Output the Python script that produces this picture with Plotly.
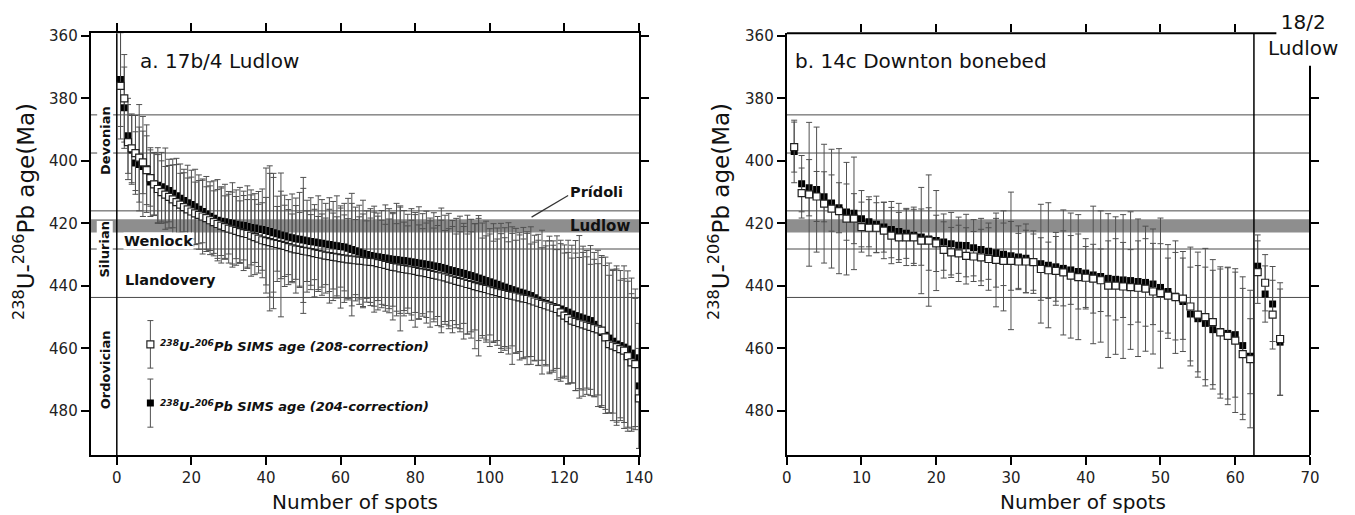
import plotly.graph_objects as go

W, H = 1355, 515
FONT = "DejaVu Sans"

# ---------------- panel a: 17b/4 Ludlow (ages in Ma) ----------------
a_age_208 = [
    376, 380, 394, 396, 397.5, 399, 400.5, 403, 405.5, 407.5,
    409, 410, 410.8, 411.5, 412.3, 413.2, 414, 414.8, 415.5, 416.2,
    416.8, 417.3, 417.8, 418.3, 419, 419.6, 420.2, 420.7, 421.2, 421.7,
    422, 422.4, 422.8, 423.1, 423.4, 423.9, 424.4, 424.9, 425.4, 425.7,
    426, 426.3, 426.6, 426.9, 427.2, 427.6, 428, 428.3, 428.5, 428.8,
    429, 429.2, 429.5, 429.8, 430, 430.3, 430.5, 430.7, 430.9, 431.1,
    431.3, 431.5, 431.6, 431.8, 431.9, 432, 432.2, 432.3, 432.4, 432.7,
    433, 433.3, 433.6, 433.9, 434.1, 434.4, 434.6, 434.8, 435, 435.2,
    435.5, 435.7, 435.9, 436.2, 436.5, 436.7, 437, 437.3, 437.7, 438,
    438.4, 438.7, 439, 439.4, 439.7, 440.1, 440.4, 440.7, 441, 441.4,
    441.7, 442, 442.3, 442.6, 442.9, 443.1, 443.4, 443.7, 444, 444.2,
    444.6, 445, 445.4, 445.8, 446.2, 446.6, 447, 447.4, 448.5, 449.5,
    450.3, 451.1, 451.5, 451.9, 452.3, 452.7, 453.1, 453.5, 453.9, 454.3,
    456.5, 458.6, 459.1, 459.6, 460.2, 460.7, 462.5, 464.5, 465, 476,
]
a_err_208 = [
    17, 14, 12, 11, 12, 17, 10, 11, 9, 10,
    11, 10, 9, 10, 11, 12, 10, 11, 10, 11,
    10, 11, 12, 10, 11, 10, 11, 12, 10, 11,
    12, 11, 10, 12, 11, 13, 12, 11, 12, 14,
    22, 21, 12, 23, 13, 12, 11, 14, 12, 20,
    13, 12, 14, 12, 13, 12, 15, 14, 13, 16,
    14, 13, 18, 13, 14, 15, 13, 14, 16, 15,
    14, 13, 15, 17, 14, 20, 15, 14, 16, 18,
    15, 14, 16, 17, 15, 16, 18, 15, 16, 17,
    15, 16, 18, 16, 17, 20, 22, 16, 17, 18,
    16, 17, 19, 18, 17, 22, 18, 20, 19, 21,
    18, 19, 20, 18, 19, 21, 20, 19, 22, 20,
    21, 20, 22, 21, 23, 22, 20, 22, 21, 24,
    23, 22, 24, 25, 22, 23, 24, 22, 21, 16,
]
a_age_204 = [
    374, 383, 392, 396.5, 400.7, 401.2, 401.8, 402.5, 406.8, 407.3,
    407.8, 408.3, 408.9, 409.5, 410.4, 411.2, 412, 412.7, 413.4, 414,
    414.7, 415.5, 416.2, 417, 417.7, 418.4, 419, 419.3, 419.5, 419.8,
    420, 420.3, 420.5, 420.7, 421, 421.3, 421.5, 421.8, 422, 422.3,
    422.6, 423, 423.3, 423.7, 424, 424.4, 424.6, 424.9, 425.1, 425.3,
    425.6, 425.8, 426, 426.2, 426.4, 426.6, 426.8, 427, 427.2, 427.4,
    427.6, 428, 428.4, 428.8, 429.2, 429.6, 430, 430.3, 430.5, 430.7,
    430.9, 431.1, 431.3, 431.5, 431.6, 431.8, 431.9, 432.1, 432.3, 432.5,
    432.7, 432.9, 433.1, 433.3, 433.6, 433.8, 434.1, 434.4, 434.8, 435.1,
    435.4, 435.7, 436, 436.4, 436.7, 437.1, 437.5, 437.9, 438.3, 438.7,
    439.1, 439.5, 440, 440.4, 440.8, 441.2, 441.6, 442, 442.3, 442.7,
    443.1, 443.8, 444.5, 445.2, 445.6, 446.1, 446.6, 447, 447.4, 447.9,
    448.4, 449, 449.5, 449.9, 450.3, 450.7, 451.1, 452.3, 453.6, 454.9,
    455.8, 456.7, 457.7, 458.6, 459.1, 459.6, 460.2, 461.5, 463, 472,
]
a_err_204 = [
    15, 13, 12, 11, 10, 12, 16, 14, 11, 10,
    12, 11, 13, 10, 11, 12, 11, 10, 12, 11,
    12, 11, 10, 12, 11, 12, 13, 11, 12, 10,
    13, 11, 12, 11, 13, 12, 11, 12, 13, 20,
    21, 19, 12, 14, 13, 12, 14, 13, 15, 20,
    13, 14, 12, 15, 14, 13, 15, 14, 16, 13,
    14, 16, 18, 14, 15, 17, 14, 15, 16, 14,
    15, 17, 16, 15, 18, 17, 16, 15, 17, 16,
    18, 16, 17, 15, 17, 16, 19, 17, 18, 16,
    17, 18, 16, 19, 18, 17, 20, 18, 19, 17,
    19, 18, 20, 19, 21, 18, 20, 19, 21, 20,
    22, 20, 21, 23, 20, 22, 21, 23, 22, 21,
    23, 22, 24, 26, 23, 22, 24, 23, 25, 24,
    25, 24, 23, 25, 24, 26, 25, 24, 22, 20,
]

# ---------------- panel b: 14c Downton bonebed (1-62) + 18/2 Ludlow (63-66) ----------------
b_age_208 = [
    395.6, 410.3, 410.7, 411.4, 413.7, 415.3, 416.1, 418.5, 418.5, 421.2,
    421.4, 421.4, 422.3, 423.9, 424.5, 424.5, 424.5, 425.5, 425.5, 426.4,
    428.5, 429.3, 429.6, 430.4, 430.6, 430.9, 431.4, 431.7, 432, 432,
    432.2, 432.2, 432.4, 434.6, 435, 435.2, 435.7, 436.7, 437.2, 437.4,
    437.7, 438.2, 439.9, 439.9, 440.2, 440.4, 440.6, 440.9, 441.8, 442.3,
    443.1, 443.6, 444.1, 446.6, 449.2, 450, 451.6, 454.9, 456, 457.5,
    461.8, 463.4, 435.6, 439, 449.2, 457,
]
b_err_208 = [
    8, 8, 23, 8, 19, 19, 20, 18, 8, 8,
    9, 8, 9, 9, 8, 9, 9, 17, 21, 9,
    9, 8, 9, 9, 8, 9, 10, 15, 16, 22,
    9, 10, 9, 10, 9, 11, 20, 20, 20, 10,
    11, 10, 23, 22, 23, 12, 22, 20, 20, 24,
    12, 18, 13, 19, 20, 22, 20, 21, 22, 23,
    21, 22, 10, 9, 11, 18,
]
b_age_204 = [
    397, 407.3, 408.6, 409.2, 411.5, 413.5, 415, 416.4, 416.8, 418.5,
    419.5, 420.3, 421.2, 422, 422.6, 423.2, 423.8, 424.4, 425, 425.5,
    426, 426.5, 427, 427.1, 427.8, 428.4, 428.9, 429.4, 429.9, 430.4,
    430.8, 431.2, 432.4, 432.9, 433.4, 433.9, 434.4, 434.9, 435.4, 435.9,
    436.5, 437, 437.6, 437.9, 438.1, 438.3, 438.6, 438.9, 439.4, 440.5,
    441.8, 443.3, 445, 449, 450.5, 452, 454, 454.6, 455.2, 455.6,
    459.1, 462.5, 433.7, 442.6, 445.8, 458,
]
b_err_204 = [
    10, 9, 9, 20, 8, 9, 8, 9, 18, 9,
    8, 9, 8, 9, 9, 8, 9, 9, 10, 16,
    9, 10, 9, 10, 9, 10, 9, 11, 10, 11,
    10, 11, 10, 19, 20, 11, 12, 11, 12, 11,
    22, 21, 12, 13, 12, 22, 13, 14, 13, 14,
    15, 14, 16, 15, 17, 18, 19, 20, 21, 20,
    22, 12, 10, 9, 12, 17,
]

a_spots = list(range(1, len(a_age_208) + 1))
b_spots = list(range(1, len(b_age_208) + 1))

# geologic time-scale boundaries (Ma)
boundaries = [385.3, 397.5, 416.0, 428.2, 443.7]
ludlow_band = [418.7, 422.9]
b_sample_split = 62.5

# legend sample (age, error)
legend_208 = [458.7, 7.6]
legend_204 = [477.5, 7.7]

X_A = [-7, 140]
X_B = [0, 70]
Y_R = [494.1, 359.2]

ERRC = "#505050"


def err(arr):
    return dict(type="data", array=arr, visible=True, color=ERRC, thickness=1, width=3)


def px(x):
    return x / W


def py(y):
    return 1 - y / H


filled_marker = dict(symbol="square", size=7, color="black", line=dict(width=0))
open_marker = dict(symbol="square", size=7, color="white", line=dict(color="#222", width=1.2))

fig = go.Figure()
fig.add_trace(go.Scatter(x=a_spots, y=a_age_204, mode="markers", marker=filled_marker,
                         error_y=err(a_err_204), xaxis="x", yaxis="y", showlegend=False))
fig.add_trace(go.Scatter(x=a_spots, y=a_age_208, mode="markers", marker=open_marker,
                         error_y=err(a_err_208), xaxis="x", yaxis="y", showlegend=False))
# legend samples
fig.add_trace(go.Scatter(x=[9], y=[legend_208[0]], mode="markers", marker=open_marker,
                         error_y=err([legend_208[1]]), xaxis="x", yaxis="y", showlegend=False))
fig.add_trace(go.Scatter(x=[9], y=[legend_204[0]], mode="markers", marker=filled_marker,
                         error_y=err([legend_204[1]]), xaxis="x", yaxis="y", showlegend=False))

fig.add_trace(go.Scatter(x=b_spots, y=b_age_204, mode="markers", marker=filled_marker,
                         error_y=err(b_err_204), xaxis="x2", yaxis="y2", showlegend=False))
fig.add_trace(go.Scatter(x=b_spots, y=b_age_208, mode="markers", marker=open_marker,
                         error_y=err(b_err_208), xaxis="x2", yaxis="y2", showlegend=False))
fig.add_trace(go.Scatter(x=[None], y=[None], xaxis="x3", yaxis="y3", showlegend=False,
                         hoverinfo="skip"))

tickfont = dict(family=FONT, size=15, color="#222")
common = dict(showgrid=False, zeroline=False, showline=True, linecolor="black", linewidth=2,
              ticks="outside", ticklen=8, tickwidth=1.5, tickcolor="black", tickfont=tickfont,
              automargin=False)
overlay_common = dict(showticklabels=False, showline=False, showgrid=False, zeroline=False,
                      ticks="outside", ticklen=8, tickwidth=1.5, tickcolor="black",
                      automargin=False)

dom_y = [py(455), py(33.3)]
fig.update_layout(
    width=W, height=H, margin=dict(l=0, r=0, t=0, b=0, pad=0, autoexpand=False), autosize=False,
    paper_bgcolor="white", plot_bgcolor="white", showlegend=False,
    xaxis=dict(domain=[px(90.7), px(639)], range=X_A, tickvals=list(range(0, 141, 20)),
               mirror="ticks", anchor="y", **common),
    yaxis=dict(domain=dom_y, range=Y_R, tickvals=list(range(360, 481, 20)),
               mirror="ticks", anchor="x", **common),
    xaxis2=dict(domain=[px(786.7), px(1310)], range=X_B, tickvals=list(range(0, 71, 10)),
                anchor="y2", **common),
    yaxis2=dict(domain=dom_y, range=Y_R, tickvals=list(range(360, 481, 20)),
                anchor="x2", **common),
    xaxis3=dict(overlaying="x2", anchor="y2", side="top", range=X_B,
                tickvals=list(range(10, 61, 10)), **overlay_common),
    yaxis3=dict(overlaying="y2", anchor="x2", side="right", range=Y_R,
                tickvals=list(range(380, 481, 20)), **overlay_common),
)

shapes = []
for xr, yr in (("x", "y"), ("x2", "y2")):
    shapes.append(dict(type="rect", xref=f"{xr} domain", yref=yr, x0=0, x1=1,
                       y0=ludlow_band[0], y1=ludlow_band[1], fillcolor="#8e8e8e",
                       line=dict(width=0), layer="below"))
    for b in boundaries:
        shapes.append(dict(type="line", xref=f"{xr} domain", yref=yr, x0=0, x1=1, y0=b, y1=b,
                           line=dict(color="#4a4a4a", width=1), layer="below"))
# period strip divider in panel a
shapes.append(dict(type="line", xref="x", yref="y domain", x0=0, x1=0, y0=0, y1=1,
                   line=dict(color="black", width=1.5), layer="below"))
# Pridoli leader line
shapes.append(dict(type="line", xref="x", yref="y", x0=111.2, y0=418.0, x1=121.0, y1=411.1,
                   line=dict(color="#333", width=1.2)))
# panel b: sample separator, partial top and right frame
shapes.append(dict(type="line", xref="x2", yref="y2 domain", x0=b_sample_split, x1=b_sample_split,
                   y0=0, y1=1, line=dict(color="black", width=1.5), layer="below"))
shapes.append(dict(type="line", xref="x2", yref="y2 domain", x0=0, x1=65.5, y0=1, y1=1,
                   line=dict(color="black", width=2)))
shapes.append(dict(type="line", xref="x2 domain", yref="y2", x0=1, x1=1, y0=369.6, y1=Y_R[0],
                   line=dict(color="black", width=2)))
fig.update_layout(shapes=shapes)

ann = []


def A(text, x, y, xref="paper", yref="paper", size=15, bold=False, italic=False, angle=0,
      xanchor="center", yanchor="middle", bg=None):
    t = text
    if italic:
        t = f"<i>{t}</i>"
    if bold:
        t = f"<b>{t}</b>"
    d = dict(text=t, x=x, y=y, xref=xref, yref=yref, showarrow=False, textangle=angle,
             xanchor=xanchor, yanchor=yanchor, font=dict(family=FONT, size=size, color="#111"),
             borderpad=0)
    if bg:
        d["bgcolor"] = bg
    ann.append(d)


# panel titles
A("a. 17b/4 Ludlow", px(139), py(61), size=20, xanchor="left")
A("b. 14c Downton bonebed", px(794), py(61), size=20, xanchor="left")
A("18/2<br>Ludlow", px(1303), py(35), size=20)
# axis titles
A("Number of spots", px(355), py(502), size=20)
A("Number of spots", px(1083), py(502), size=20)
ytitle = "<sup>238</sup>U-<sup>206</sup>Pb age(Ma)"
A(ytitle, px(24), py(212), size=23, angle=-90)
A(ytitle, px(719), py(212), size=23, angle=-90)
# period labels (panel a)
A("Devonian", -3.2, 393.4, "x", "y", size=13, bold=True, angle=-90, bg="white")
A("Silurian", -3.2, 428.4, "x", "y", size=13, bold=True, angle=-90, bg="white")
A("Ordovician", -3.2, 466.7, "x", "y", size=13, bold=True, angle=-90, bg="white")
A("Wenlock", 11.1, 425.7, "x", "y", size=14.5, bold=True, bg="white")
A("Llandovery", 14.5, 438.1, "x", "y", size=14.5, bold=True)
A("Ludlow", 129.5, 420.8, "x", "y", size=15, bold=True)
A("Prídoli", 121.2, 410.0, "x", "y", size=14.5, bold=True, xanchor="left")
# legend texts
A("<sup>238</sup>U-<sup>206</sup>Pb SIMS age (208-correction)", 11.4, 459.1, "x", "y",
  size=13, bold=True, italic=True, xanchor="left")
A("<sup>238</sup>U-<sup>206</sup>Pb SIMS age (204-correction)", 11.4, 478.4, "x", "y",
  size=13, bold=True, italic=True, xanchor="left")
fig.update_layout(annotations=ann)

fig.write_html(
    "out.html",
    config={"displayModeBar": False},
    post_script="document.body.style.margin='0';document.body.style.overflow='hidden';",
)
